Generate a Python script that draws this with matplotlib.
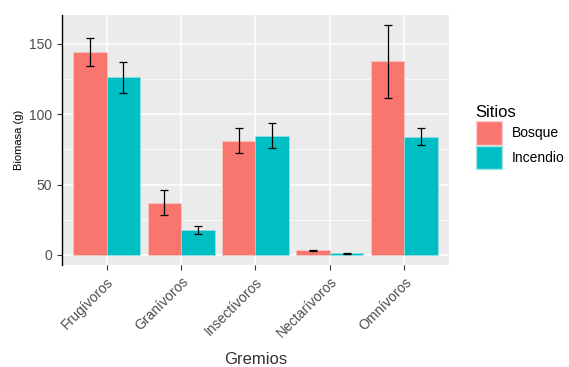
import numpy as np
import matplotlib
matplotlib.use("Agg")
import matplotlib.pyplot as plt
from matplotlib.patches import Patch

plt.rcParams['font.family'] = ['Liberation Sans', 'DejaVu Sans']

gremios = ["Frugívoros", "Granívoros", "Insectívoros", "Nectarívoros", "Omnívoros"]
sitios = ["Bosque", "Incendio"]
bosque = [144.5, 37.2, 81.2, 3.1, 137.5]
bosque_err = [10.0, 9.0, 8.8, 0.3, 25.7]
incendio = [126.4, 17.5, 84.7, 1.0, 84.0]
incendio_err = [11.0, 2.7, 9.0, 0.2, 6.2]

col_b = "#F8766D"
col_i = "#00BFC4"

fig = plt.figure(figsize=(5.69, 3.67), dpi=100)
ax = fig.add_axes([0.109, 0.278, 0.68, 0.681])
ax.set_facecolor("#EBEBEB")

x = np.arange(1, len(gremios) + 1)
w = 0.45
ax.bar(x - w / 2, bosque, w, color=col_b, edgecolor="#FBD0CC", linewidth=0.4, zorder=3)
ax.bar(x + w / 2, incendio, w, color=col_i, edgecolor="#9FE6E8", linewidth=0.4, zorder=3)
ax.errorbar(x - w / 2, bosque, yerr=bosque_err, fmt="none", ecolor="black",
            elinewidth=0.9, capsize=3.0, capthick=0.9, zorder=4)
ax.errorbar(x + w / 2, incendio, yerr=incendio_err, fmt="none", ecolor="black",
            elinewidth=0.9, capsize=3.0, capthick=0.9, zorder=4)

ax.set_xlim(0.4, 5.6)
ax.set_ylim(-7.2, 170.5)
ax.set_yticks([0, 50, 100, 150])
ax.set_yticks([25, 75, 125], minor=True)
ax.set_xticks(x)
ax.set_xticklabels(gremios, rotation=45, ha="right", rotation_mode="anchor",
                   color="#4D4D4D", fontsize=10)
ax.tick_params(axis="y", labelcolor="#4D4D4D", labelsize=10, color="#333333", length=3.5)
ax.tick_params(axis="y", which="minor", length=0)
ax.tick_params(axis="x", color="#333333", length=3.5)

ax.grid(True, which="major", color="white", linewidth=1.1, zorder=0)
ax.grid(True, which="minor", axis="y", color="white", linewidth=0.55, zorder=0)
ax.set_axisbelow(True)
for s in ["top", "right", "bottom"]:
    ax.spines[s].set_visible(False)
ax.spines["left"].set_color("black")
ax.spines["left"].set_linewidth(1.0)

ax.set_ylabel("Biomasa (g)", fontsize=8, labelpad=4)
ax.set_xlabel("Gremios", fontsize=12, color="#333333", labelpad=8)

handles = [Patch(facecolor=col_b, edgecolor="#FBD0CC"),
           Patch(facecolor=col_i, edgecolor="#9FE6E8")]
leg = fig.legend(handles, sitios, title="Sitios", loc="upper left",
                 bbox_to_anchor=(0.814, 0.748), frameon=False, fontsize=10,
                 title_fontsize=12, handlelength=1.9, handleheight=2.2,
                 handletextpad=0.7, labelspacing=0.1, alignment="left")

fig.savefig("out.png", dpi=100)
